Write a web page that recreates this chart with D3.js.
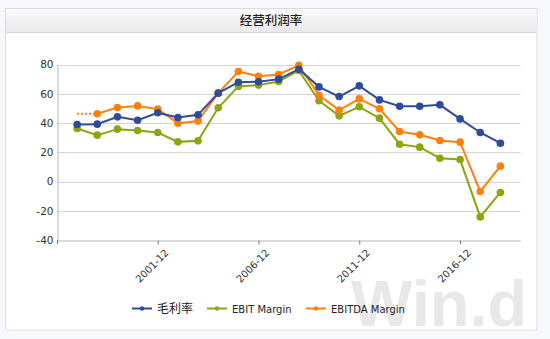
<!DOCTYPE html>
<html><head><meta charset="utf-8">
<script src="https://cdn.jsdelivr.net/npm/d3@7"></script>
<style>
html,body{margin:0;padding:0;background:#f6f8fb;}
svg{display:block;}
</style></head>
<body>
<script>
const years = ["1997","1998","1999","2000","2001","2002","2003","2004","2005","2006","2007","2008","2009","2010","2011","2012","2013","2014","2015","2016","2017","2018"];
const grossMargin = [39.0,39.2,44.2,41.9,47.0,43.8,45.6,60.4,67.9,68.2,70.0,76.8,64.7,58.1,65.4,55.8,51.5,51.5,52.4,42.8,33.5,26.2];
const ebitMargin = [36.2,31.7,35.8,34.9,33.5,27.1,27.8,50.4,65.0,65.9,68.4,75.9,55.2,44.9,51.1,43.3,25.5,23.5,15.9,15.0,-24.2,-7.5];
const ebitdaMargin = [null,46.3,50.6,51.7,49.5,39.9,41.3,60.4,75.2,72.0,73.2,79.5,59.0,48.8,56.5,49.7,34.2,31.9,28.0,26.9,-6.8,10.5];
const seriesNames = ["毛利率","EBIT Margin","EBITDA Margin"];
const seriesColors = ["#2f4b9b","#8ba60f","#ff7f0f"];
const yTicks = [-40,-20,0,20,40,60,80];
const xTickLabels = ["2001-12","2006-12","2011-12","2016-12"];
const title = "经营利润率";

const W = 550, H = 339;
const svg = d3.select("body").append("svg").attr("width", W).attr("height", H);

// panel
svg.append("rect").attr("x",5.5).attr("y",8.5).attr("width",531.5).attr("height",321.5)
  .attr("fill","#fff").attr("stroke","#dcdcdc");
const grad = svg.append("defs").append("linearGradient").attr("id","tg").attr("x1",0).attr("y1",0).attr("x2",0).attr("y2",1);
grad.append("stop").attr("offset","0%").attr("stop-color","#fafafa");
grad.append("stop").attr("offset","100%").attr("stop-color","#e9e9e9");
svg.append("rect").attr("x",6).attr("y",9).attr("width",530.5).attr("height",23.5).attr("fill","url(#tg)");
svg.append("line").attr("x1",6).attr("x2",536.5).attr("y1",32.5).attr("y2",32.5).attr("stroke","#d6d6d6");
svg.append("text").attr("x",271).attr("y",25).attr("text-anchor","middle")
  .attr("font-family","Noto Sans CJK SC").attr("font-size",12.5).attr("font-weight",500).attr("fill","#222").text(title);

// watermark (behind marks)
svg.append("text").attr("x",351).attr("y",326).attr("font-family","Liberation Sans").attr("font-weight","bold")
  .attr("font-size",65).attr("fill","#000").attr("opacity",0.085).text("Win.d");

const parse = d3.timeParse("%Y-%m");
const x = d3.scaleTime().domain([parse("1996-12"), parse("2019-12")]).range([57, 520.5]);
const y = d3.scaleLinear().domain([-40, 80]).range([240, 64.5]);

// grid
svg.append("g").selectAll("line").data(yTicks.filter(d=>d>-40)).join("line")
  .attr("x1",57).attr("x2",520.5).attr("y1",d=>Math.round(y(d))+0.5).attr("y2",d=>Math.round(y(d))+0.5)
  .attr("stroke","#d4d4d4").attr("stroke-width",1);

// y axis
const yAxis = svg.append("g").attr("transform","translate(57.5,0)")
  .call(d3.axisLeft(y).tickValues(yTicks).tickSize(0).tickPadding(4).tickFormat(d=>String(d)));
yAxis.select(".domain").attr("stroke","#b8b8b8");
yAxis.selectAll("text").attr("font-family","DejaVu Sans").attr("font-size",10.5).attr("fill","#333");

// x axis
const xAxis = svg.append("g").attr("transform","translate(0,240.5)")
  .call(d3.axisBottom(x).tickValues(xTickLabels.map(parse)).tickSizeInner(4).tickSizeOuter(0).tickFormat(d3.timeFormat("%Y-%m")));
xAxis.select(".domain").attr("stroke","#b8b8b8");
xAxis.selectAll(".tick line").attr("stroke","#777");
xAxis.selectAll("text").attr("font-family","DejaVu Sans").attr("font-size",10).attr("fill","#333")
  .attr("text-anchor","end").attr("transform","translate(4,6) rotate(-45)").attr("dy","0.3em").attr("dx","0");
svg.append("line").attr("x1",57.5).attr("x2",57.5).attr("y1",240).attr("y2",244).attr("stroke","#777");

const seriesData = [grossMargin, ebitMargin, ebitdaMargin];
const pts = seriesData.map(arr => arr.map((v,i)=>({d:parse(years[i]+"-12"), v})));
const line = d3.line().defined(p=>p.v!=null).x(p=>x(p.d)).y(p=>y(p.v));

// dotted lead-in for missing first EBITDA
const firstIdx = ebitdaMargin.findIndex(v=>v!=null);
svg.append("line").attr("x1",x(parse(years[0]+"-12"))).attr("x2",x(pts[2][firstIdx].d))
  .attr("y1",y(ebitdaMargin[firstIdx])).attr("y2",y(ebitdaMargin[firstIdx]))
  .attr("stroke",seriesColors[2]).attr("stroke-width",2).attr("stroke-dasharray","2,2");

[1,2,0].forEach(s=>{
  const g = svg.append("g");
  g.append("path").datum(pts[s]).attr("d",line).attr("fill","none")
    .attr("stroke",seriesColors[s]).attr("stroke-width",2);
  g.selectAll("circle").data(pts[s].filter(p=>p.v!=null)).join("circle")
    .attr("cx",p=>x(p.d)).attr("cy",p=>y(p.v)).attr("r",3.8).attr("fill",seriesColors[s]);
});

// legend
const legX = [132, 207, 306];
const leg = svg.append("g");
seriesNames.forEach((n,i)=>{
  leg.append("line").attr("x1",legX[i]).attr("x2",legX[i]+20).attr("y1",308.5).attr("y2",308.5)
    .attr("stroke",seriesColors[i]).attr("stroke-width",2);
  leg.append("circle").attr("cx",legX[i]+10).attr("cy",308.5).attr("r",2.2).attr("fill",seriesColors[i]);
  leg.append("text").attr("x",legX[i]+25).attr("y",312.5)
    .attr("font-family", i===0 ? "Noto Sans CJK SC" : "DejaVu Sans")
    .attr("font-size", i===0 ? 12 : 10).attr("fill","#222").text(n);
});
</script>
</body></html>
